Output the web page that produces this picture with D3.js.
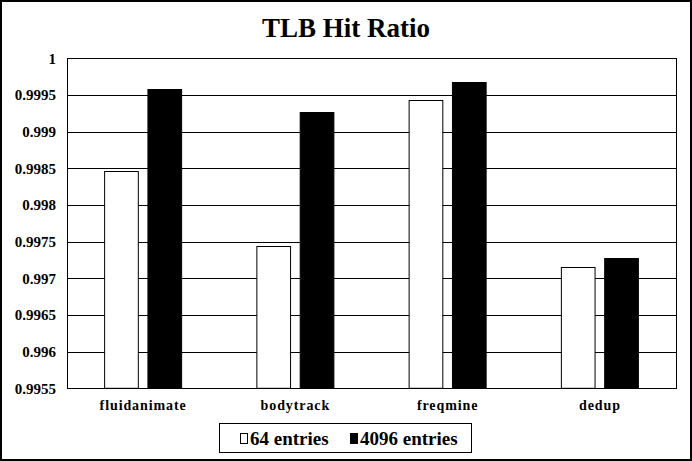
<!DOCTYPE html>
<html><head><meta charset="utf-8">
<script src="https://cdn.jsdelivr.net/npm/d3@7/dist/d3.min.js"></script>
<style>body{margin:0;background:#fff}svg{display:block}text{font-family:"Liberation Serif","Times New Roman",serif;font-weight:bold}</style>
</head><body>
<svg id="c" width="692" height="461"></svg>
<script>
const categories = ["fluidanimate","bodytrack","freqmine","dedup"];
const seriesNames = ["64 entries","4096 entries"];
const entries64 = [0.99846, 0.99744, 0.99943, 0.99715];
const entries4096 = [0.99958, 0.99927, 0.99968, 0.99728];
const yTicks = [0.9955,0.996,0.9965,0.997,0.9975,0.998,0.9985,0.999,0.9995,1];
const colors = ["#ffffff","#000000"];

const svg = d3.select("#c");
const W=692,H=461;
svg.append("rect").attr("x",1).attr("y",1).attr("width",W-2).attr("height",H-2).attr("fill","#fff").attr("stroke","#000").attr("stroke-width",2);

const L=67,R=676,T=58.3,B=388.3;
const x0=d3.scaleBand().domain(categories).range([L,R]).padding(0);
const x1=d3.scaleBand().domain(seriesNames).range([0,x0.bandwidth()]).paddingInner(0.199).paddingOuter(0.857);
const y=d3.scaleLinear().domain([0.9955,1]).range([B,T]);

// gridlines
svg.append("g").selectAll("line").data(yTicks).join("line")
 .attr("x1",L).attr("x2",R).attr("y1",d=>Math.round(y(d))+0.5).attr("y2",d=>Math.round(y(d))+0.5)
 .attr("stroke","#000").attr("stroke-width",1);

const series=[entries64,entries4096];
const g=svg.append("g");
categories.forEach((c,i)=>{
  seriesNames.forEach((s,j)=>{
    const v=series[j][i];
    g.append("rect").attr("x",x0(c)+x1(s)+0.5).attr("y",Math.round(y(v))+0.5)
     .attr("width",x1.bandwidth()-1).attr("height",B-Math.round(y(v))-0.5)
     .attr("fill",colors[j]).attr("stroke","#000").attr("stroke-width",1);
  });
});

// frame
svg.append("rect").attr("x",L+0.5).attr("y",Math.round(T)+0.5).attr("width",R-L).attr("height",Math.round(B)-Math.round(T))
 .attr("fill","none").attr("stroke","#000").attr("stroke-width",1);

// y axis
const ya=svg.append("g").attr("transform",`translate(${L},0)`)
 .call(d3.axisLeft(y).tickValues(yTicks).tickSize(0).tickPadding(11).tickFormat(d=>String(+d.toFixed(4))));
ya.select(".domain").remove();
ya.selectAll("text").attr("font-size",15).attr("fill","#000").style("font-family",'"Liberation Serif",serif').style("font-weight","bold");

// x axis
const xa=svg.append("g").attr("transform",`translate(0,${B})`)
 .call(d3.axisBottom(x0).tickSize(0).tickPadding(12));
xa.select(".domain").remove();
xa.selectAll("text").attr("font-size",14).attr("fill","#000").style("font-family",'"Liberation Serif",serif').style("font-weight","bold").attr("letter-spacing","0.9");

// title
svg.append("text").attr("x",346).attr("y",37).attr("text-anchor","middle").attr("font-size",27).text("TLB Hit Ratio");

// legend
const lg=svg.append("g");
lg.append("rect").attr("x",219.5).attr("y",423.5).attr("width",252).attr("height",29).attr("fill","#fff").attr("stroke","#000");
const lx=[240,350], tx=[250,360];
seriesNames.forEach((s,j)=>{
  lg.append("rect").attr("x",lx[j]+0.5).attr("y",433.5).attr("width",7).attr("height",10).attr("fill",colors[j]).attr("stroke","#000");
  lg.append("text").attr("x",tx[j]).attr("y",445).attr("font-size",19).text(s);
});
</script>
</body></html>
